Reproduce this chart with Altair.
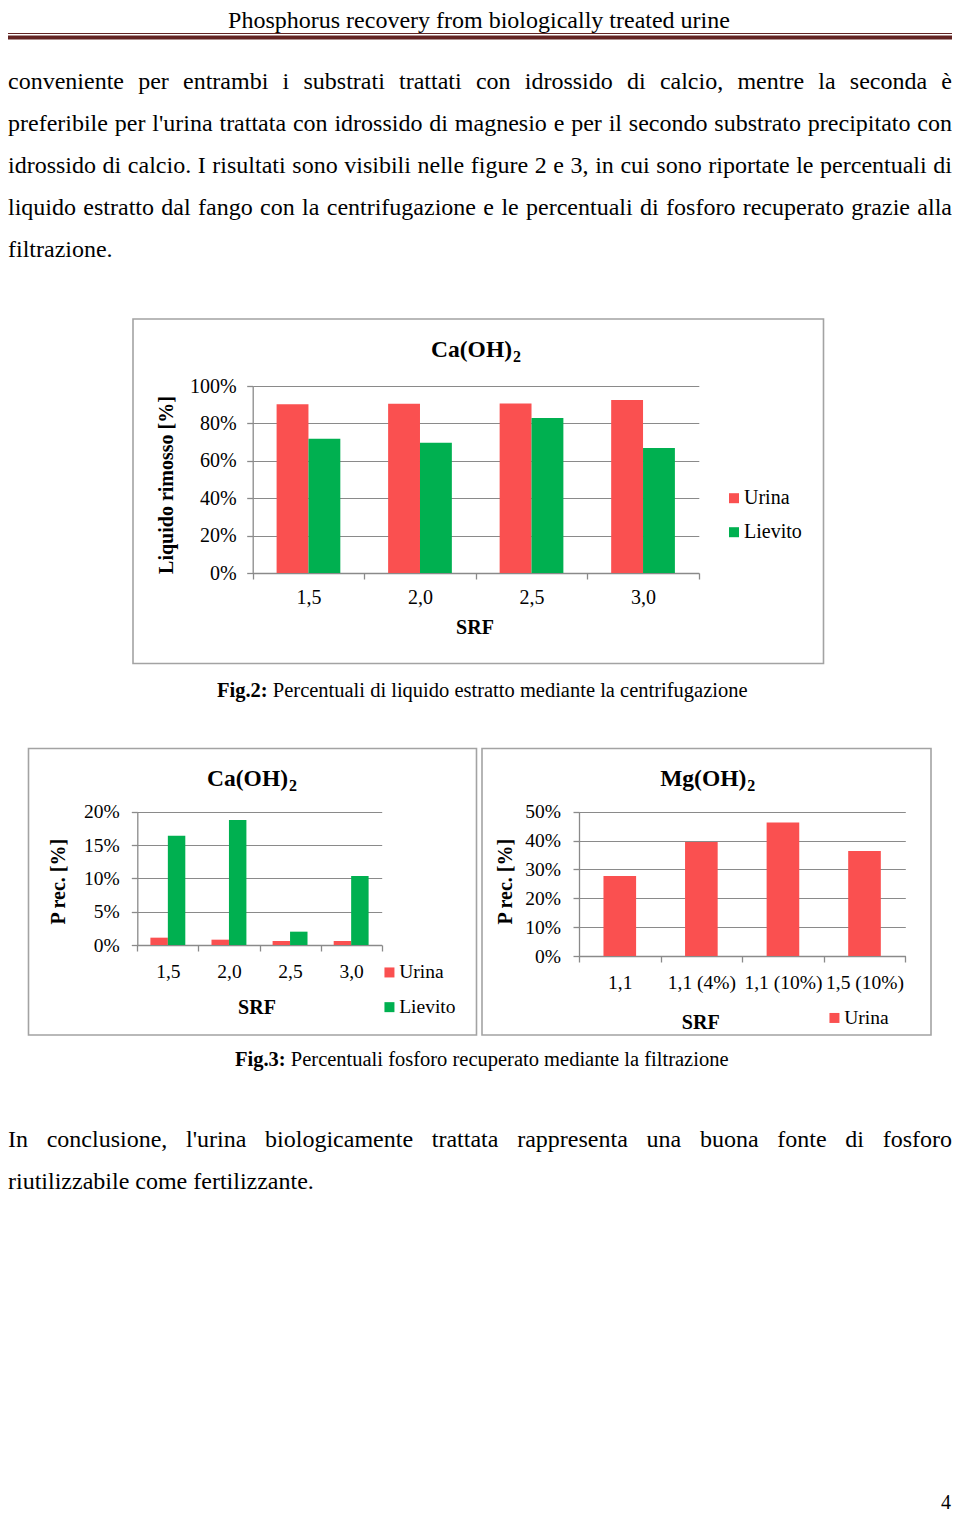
import altair as alt
import pandas as pd

# ---------------- data ----------------
srf = ["1,5", "2,0", "2,5", "3,0"]
series = ["Urina", "Lievito"]
liq_urina = [0.902, 0.905, 0.907, 0.925]
liq_lievito = [0.718, 0.697, 0.829, 0.668]
p_ca_urina = [0.011, 0.008, 0.006, 0.006]
p_ca_lievito = [0.164, 0.1875, 0.020, 0.1035]
mg_srf = ["1,1", "1,1 (4%)", "1,1 (10%)", "1,5 (10%)"]
p_mg_urina = [0.277, 0.395, 0.463, 0.364]
ticks_fig2 = [0, 0.2, 0.4, 0.6, 0.8, 1.0]
ticks_ca = [0, 0.05, 0.10, 0.15, 0.20]
ticks_mg = [0, 0.1, 0.2, 0.3, 0.4, 0.5]

header = "Phosphorus recovery from biologically treated urine"
para_lines = [
    "conveniente per entrambi i substrati trattati con idrossido di calcio, mentre la seconda è",
    "preferibile per l'urina trattata con idrossido di magnesio e per il secondo substrato precipitato con",
    "idrossido di calcio. I risultati sono visibili nelle figure 2 e 3, in cui sono riportate le percentuali di",
    "liquido estratto dal fango con la centrifugazione e le percentuali di fosforo recuperato grazie alla",
    "filtrazione.",
]
concl_lines = [
    "In conclusione, l'urina biologicamente trattata rappresenta una buona fonte di fosforo",
    "riutilizzabile come fertilizzante.",
]
cap2_bold, cap2_rest = "Fig.2:", "Percentuali di liquido estratto mediante la centrifugazione"
cap3_bold, cap3_rest = "Fig.3:", "Percentuali fosforo recuperato mediante la filtrazione"

RED = "#FA5050"
GREEN = "#00B050"
GRID = "#8A8A8A"
FONT = "Liberation Serif"

W_PX, H_PX = 944, 1506


def X(p):
    return p - 8


def Y(p):
    return p - 8


# Times / Liberation Serif advance widths (1/1000 em)
TW = {" ": 250, "a": 444, "b": 500, "c": 444, "d": 500, "e": 444, "f": 333, "g": 500,
      "h": 500, "i": 278, "j": 278, "k": 500, "l": 278, "m": 778, "n": 500, "o": 500,
      "p": 500, "q": 500, "r": 333, "s": 389, "t": 278, "u": 500, "v": 500, "w": 722,
      "x": 500, "y": 500, "z": 444, "I": 333, "F": 556, "P": 556, ",": 250, ".": 250,
      "'": 180, ":": 278, "è": 444, "%": 833}
BOLD_FIG = 2722  # "Fig.n: " in Times bold, 1/1000 em


def tw(s, size):
    return sum(TW.get(c, 500) for c in s) * size / 1000.0


# ---------------- text helpers ----------------
def txt(s, x, y, size, bold=False, align="left", baseline="alphabetic", angle=0):
    kw = dict(text=s, fontSize=size, font=FONT, align=align, baseline=baseline,
              color="black", fontWeight="bold" if bold else "normal")
    if angle:
        kw["angle"] = angle
    return alt.Chart(alt.Data(values=[{}])).mark_text(**kw).encode(
        x=alt.value(X(x)), y=alt.value(Y(y)))


def justified(lines, baselines, left, right, size, last_left):
    rows_l, rows_r = [], []
    for i, (line, by) in enumerate(zip(lines, baselines)):
        words = line.split(" ")
        if i in last_left or len(words) == 1:
            rows_l.append({"w": line, "px": X(left), "py": Y(by)})
            continue
        widths = [tw(w, size) for w in words]
        gap = (right - left - sum(widths)) / (len(words) - 1)
        xpos = left
        for j, w in enumerate(words):
            if j == len(words) - 1:
                rows_r.append({"w": w, "px": X(right), "py": Y(by)})
            else:
                rows_l.append({"w": w, "px": X(xpos), "py": Y(by)})
            xpos += widths[j] + gap
    out = []
    for rows, al in ((rows_l, "left"), (rows_r, "right")):
        out.append(alt.Chart(pd.DataFrame(rows)).mark_text(
            font=FONT, fontSize=size, align=al, baseline="alphabetic", color="black"
        ).encode(x=alt.X("px:Q", scale=None, axis=None),
                 y=alt.Y("py:Q", scale=None, axis=None), text="w:N"))
    return out


def frame(x1, y1, x2, y2):
    return alt.Chart(alt.Data(values=[{}])).mark_rect(
        fillOpacity=0, stroke="#A3A3A3", strokeWidth=1.6
    ).encode(x=alt.value(X(x1)), x2=alt.value(X(x2)), y=alt.value(Y(y1)), y2=alt.value(Y(y2)))


def hline(y, width, x1=0, x2=952):
    return alt.Chart(alt.Data(values=[{}])).mark_rule(
        color="#632423", strokeWidth=width
    ).encode(x=alt.value(X(x1)), x2=alt.value(X(x2)), y=alt.value(Y(y)))


def bar_chart(df, cats, sers, colors, yticks, ydom, xr, yr, lab_size,
              ylab_pad, xlab_pad, leg_x, leg_y, row_pad):
    return alt.Chart(df).mark_bar().encode(
        x=alt.X("srf:N", sort=cats, title=None,
                scale=alt.Scale(domain=cats, range=[X(xr[0]), X(xr[1])],
                                paddingInner=0, paddingOuter=0),
                axis=alt.Axis(orient="bottom", offset=Y(yr[0]) - H_PX, labelAngle=0,
                              tickBand="extent", grid=False, tickSize=6,
                              labelPadding=xlab_pad, labelFontSize=lab_size,
                              labelOverlap=False, labelFlush=False, labelLimit=300)),
        xOffset=alt.XOffset("serie:N", sort=sers,
                            scale=alt.Scale(domain=sers, paddingInner=0, paddingOuter=0.75)),
        y=alt.Y("val:Q", title=None,
                scale=alt.Scale(domain=ydom, range=[Y(yr[0]), Y(yr[1])], nice=False, zero=True),
                axis=alt.Axis(orient="left", offset=-X(xr[0]), values=yticks, format=".0%",
                              grid=True, tickSize=6, labelPadding=ylab_pad,
                              labelFontSize=lab_size)),
        color=alt.Color("serie:N", sort=sers,
                        scale=alt.Scale(domain=sers, range=colors),
                        legend=alt.Legend(title=None, orient="none", legendX=X(leg_x),
                                          legendY=Y(leg_y), direction="vertical",
                                          labelFontSize=lab_size, rowPadding=row_pad,
                                          labelOffset=0, symbolSize=100)),
    )


# ---------------- data frames ----------------
df2 = pd.DataFrame({"srf": srf * 2, "serie": ["Urina"] * 4 + ["Lievito"] * 4,
                    "val": liq_urina + liq_lievito})
df3a = pd.DataFrame({"srf": srf * 2, "serie": ["Urina"] * 4 + ["Lievito"] * 4,
                     "val": p_ca_urina + p_ca_lievito})
df3b = pd.DataFrame({"srf": mg_srf, "serie": ["Urina"] * 4, "val": p_mg_urina})

fig2 = bar_chart(df2, srf, series, [RED, GREEN], ticks_fig2, [0, 1],
                 (252.7, 698.8), (573, 386), 20, 10.5, 8, 724, 488.2, 14)
fig3a = bar_chart(df3a, srf, series, [RED, GREEN], ticks_ca, [0, 0.2],
                  (137.3, 381.7), (945, 811.7), 19.5, 12, 11, 379.7, 962.7, 13.7)
fig3b = bar_chart(df3b, mg_srf, ["Urina"], [RED], ticks_mg, [0, 0.5],
                  (579, 905.3), (956, 811.7), 19.5, 12.5, 11, 824.7, 1008.2, 14)

CAP = 20.5
layers = [
    txt(header, 479, 27.5, 24, align="center"),
    hline(33.5, 1.2),
    hline(37.5, 4),
    frame(133, 319, 823.5, 663.5),
    frame(28.5, 748.5, 476.5, 1035),
    frame(482, 748.5, 931, 1035),
    fig2, fig3a, fig3b,
    # fig 2 texts
    txt("Ca(OH)", 512, 357, 23.5, bold=True, align="right"),
    txt("2", 513, 361.5, 16, bold=True),
    txt("Liquido rimosso [%]", 167, 485, 20, bold=True, align="center",
        baseline="middle", angle=270),
    txt("SRF", 475, 628, 20, bold=True, align="center", baseline="middle"),
    txt(cap2_bold, 217, 697, CAP, bold=True),
    txt(cap2_rest, 217 + BOLD_FIG * CAP / 1000.0, 697, CAP),
    # fig 3 texts
    txt("Ca(OH)", 288, 786.2, 23.5, bold=True, align="right"),
    txt("2", 289, 790.5, 16, bold=True),
    txt("P rec. [%]", 59.3, 881.7, 20, bold=True, align="center",
        baseline="middle", angle=270),
    txt("SRF", 257, 1008, 20, bold=True, align="center", baseline="middle"),
    txt("Mg(OH)", 746.3, 786.2, 23.5, bold=True, align="right"),
    txt("2", 747.3, 790.5, 16, bold=True),
    txt("P rec. [%]", 506.3, 881.7, 20, bold=True, align="center",
        baseline="middle", angle=270),
    txt("SRF", 700.7, 1022.5, 20, bold=True, align="center", baseline="middle"),
    txt(cap3_bold, 235, 1066, CAP, bold=True),
    txt(cap3_rest, 235 + BOLD_FIG * CAP / 1000.0, 1066, CAP),
    txt("4", 946, 1508.5, 20, align="center"),
]
layers += justified(para_lines, [89.3, 131.3, 173.3, 215.3, 257.3], 8, 952, 24, {4})
layers += justified(concl_lines, [1146.5, 1188.5], 8, 952, 24, {1})

chart = alt.layer(*layers).resolve_scale(
    x="independent", y="independent", xOffset="independent", color="independent"
).properties(
    width=W_PX, height=H_PX, padding=0, background="white",
    autosize=alt.AutoSizeParams(type="none"),
).configure_view(strokeWidth=0).configure_axis(
    labelFont=FONT, labelColor="black", domainColor=GRID, tickColor=GRID,
    gridColor=GRID, domainWidth=1.3, tickWidth=1.3, gridWidth=1.2,
).configure_legend(
    labelFont=FONT, labelColor="black", symbolType="square", symbolStrokeWidth=0,
    padding=0, labelLimit=300,
)

chart.save("out.html", embed_options={"renderer": "svg", "actions": False})
